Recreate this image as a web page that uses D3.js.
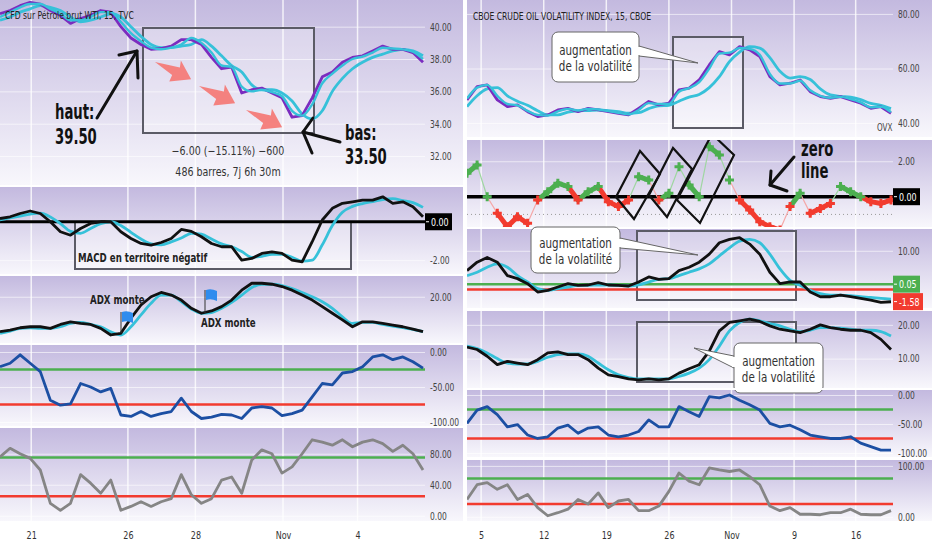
<!DOCTYPE html>
<html>
<head>
<meta charset="utf-8">
<script src="https://cdn.jsdelivr.net/npm/d3@7"></script>
<style>
  body { margin: 0; background: #fff; }
  svg { display: block; }
</style>
</head>
<body>
<div id="chart"></div>
<script>
// ---- data (one value every ~10px of bars) ----
const leftTickLabels = ['21', '26', '28', 'Nov', '4'];
const leftTickIdx = [3.1, 12.7, 19.4, 28.1, 35.5];
const rightTickLabels = ['5', '12', '19', '26', 'Nov', '9', '16'];
const rightTickIdx = [1.4, 7.6, 13.8, 20.0, 26.2, 32.4, 38.5];

const wtiPrice = [40.8, 41.0, 41.3, 41.5, 41.4, 41.0, 40.7, 40.2, 40.5, 40.7, 41.0, 40.9, 40.0, 39.3, 38.9, 38.6, 38.65, 38.8, 39.2, 39.2, 38.9, 38.1, 37.4, 37.5, 35.9, 36.1, 36.2, 35.9, 35.6, 34.4, 34.5, 35.6, 36.9, 37.2, 37.8, 38.1, 38.2, 38.5, 38.8, 38.6, 38.6, 38.4, 37.8];
const wtiFast = [40.6, 40.9, 41.2, 41.4, 41.4, 41.1, 40.8, 40.4, 40.4, 40.6, 40.9, 40.9, 40.3, 39.6, 39.1, 38.7, 38.6, 38.7, 38.9, 39.3, 39.0, 38.4, 37.6, 37.5, 36.3, 36.0, 36.1, 35.95, 35.7, 34.8, 34.5, 35.2, 36.5, 37.1, 37.6, 38.0, 38.15, 38.4, 38.7, 38.65, 38.6, 38.45, 38.0];
const wtiSlow = [40.4, 40.6, 40.9, 41.1, 41.3, 41.2, 41.0, 40.6, 40.3, 40.4, 40.6, 40.8, 40.6, 40.0, 39.4, 38.9, 38.7, 38.7, 38.8, 38.9, 39.2, 38.8, 38.2, 37.6, 37.2, 36.4, 36.1, 36.1, 35.9, 35.4, 34.6, 34.3, 34.8, 36.0, 36.8, 37.4, 37.8, 38.1, 38.3, 38.5, 38.6, 38.5, 38.2];
const wtiMacd = [0.17, 0.26, 0.43, 0.56, 0.43, 0, -0.52, -0.7, -0.35, -0.09, 0, 0, -0.52, -0.87, -1.13, -1.22, -1.08, -0.87, -0.4, -0.5, -0.78, -1.13, -1.3, -1.3, -2.0, -1.91, -1.65, -1.57, -1.65, -2.0, -2.09, -1.04, 0.09, 0.7, 0.96, 1.04, 1.13, 1.13, 1.3, 0.96, 1.04, 0.78, 0.26];
const wtiSignal = [0.1, 0.2, 0.3, 0.4, 0.45, 0.25, -0.1, -0.5, -0.6, -0.35, -0.1, 0, -0.2, -0.55, -0.9, -1.15, -1.2, -1.05, -0.85, -0.6, -0.65, -0.9, -1.15, -1.3, -1.55, -1.85, -1.8, -1.7, -1.7, -1.85, -2.05, -2.0, -1.2, -0.2, 0.5, 0.8, 0.95, 1.05, 1.15, 1.2, 1.1, 1.0, 0.75];
const wtiAdx = [9.4, 9.9, 10.6, 10.9, 10.9, 10.4, 11.6, 12.4, 11.9, 11.6, 10.4, 8.4, 8.9, 13.5, 17.5, 20.0, 21.3, 20.5, 19.0, 16.5, 15.0, 15.7, 17.0, 19.0, 22.0, 24.1, 24.1, 23.8, 23.1, 22.0, 20.5, 19.0, 17.0, 15.0, 13.0, 10.9, 12.4, 12.4, 11.9, 11.4, 10.9, 10.2, 9.4];
const wtiAdxSig = [8.9, 9.6, 10.4, 10.6, 10.4, 10.4, 10.9, 11.9, 12.2, 11.6, 10.9, 9.4, 8.4, 10.9, 14.5, 18.0, 20.5, 20.5, 18.5, 16.3, 15.0, 15.2, 16.5, 18.3, 20.5, 22.8, 23.8, 23.8, 23.4, 22.5, 21.3, 20.0, 18.5, 16.5, 13.9, 11.9, 12.2, 12.2, 11.6, 11.1, 10.6, 10.1, 9.4];
const wtiWillR = [-21, -16, -4, -16, -28, -69, -76, -74, -45, -50, -57, -52, -90, -92, -85, -92, -88, -85, -66, -85, -95, -93, -89, -90, -95, -80, -78, -80, -91, -88, -83, -64, -45, -47, -30, -28, -21, -7, -4, -11, -7, -14, -23];
const wtiStoch = [76, 87, 80, 74, 59, 16, 7, 16, 53, 42, 29, 46, 7, 12, 18, 12, 18, 22, 53, 27, 16, 22, 46, 50, 29, 72, 85, 80, 55, 63, 80, 98, 95, 91, 98, 89, 95, 98, 93, 83, 91, 80, 59];

const ovx = [48.5, 53.4, 54.0, 48.5, 46.0, 46.7, 44.2, 42.4, 43.0, 44.8, 45.4, 44.2, 45.4, 44.8, 44.2, 43.6, 43.0, 45.4, 47.9, 46.7, 47.3, 52.2, 52.8, 55.8, 61.3, 66.2, 65.0, 68.0, 66.8, 64.4, 57.0, 54.0, 54.6, 55.8, 51.5, 49.7, 49.1, 49.7, 48.5, 47.3, 45.4, 46.0, 43.6];
const ovxFast = [49, 53, 54, 50, 47, 46.5, 44.5, 43, 42.8, 44.3, 45.2, 44.6, 45.2, 45, 44.4, 43.8, 43.2, 44.8, 47.3, 47, 47, 51.5, 52.8, 55, 60, 65.5, 65.8, 67.5, 67.2, 65, 58, 54.5, 54.5, 55.5, 52, 50, 49.3, 49.6, 48.8, 47.6, 45.8, 46, 44];
const ovxSlow = [46, 50, 52.5, 53, 50, 48, 46.5, 44.5, 43, 43, 44, 44.5, 44.6, 44.8, 44.6, 44.2, 43.6, 43.8, 45.3, 46.3, 46.5, 48, 49.5, 50.5, 53, 57, 62.5, 66, 68, 67.5, 64, 59, 56.5, 57, 56, 52.5, 50.3, 49.8, 49.5, 48.6, 47.2, 46.5, 45.3];
const ovxOsc = [1.32, 1.79, 0, -0.94, -1.69, -1.13, -1.5, -0.19, 0.28, 0.76, 0.57, -0.19, 0.28, 0.57, -0.28, -0.56, -0.19, 1.13, 0.94, -0.19, 0.19, 1.69, 0.66, 0, 2.82, 2.36, 0.94, -0.19, -0.75, -1.41, -1.69, -1.88, -0.56, 0.19, -0.94, -0.66, -0.38, 0.57, 0.28, 0, -0.28, -0.38, -0.19];
const ovxMacd = [4.1, 6.6, 8.0, 6.6, 2.6, 1.7, 0.2, -2.3, -1.8, -0.8, 0.2, -0.3, -0.2, 0.5, -0.2, -0.3, -0.5, 0.7, 2.2, 1.5, 1.7, 4.1, 5.1, 6.6, 9.0, 12.4, 13.4, 13.9, 12.0, 9.0, 3.6, 0.2, 0.7, 0.7, -2.3, -3.7, -3.7, -3.2, -3.7, -4.2, -4.7, -5.4, -5.2];
const ovxSignal = [2.6, 3.6, 5.1, 6.1, 5.1, 2.6, 0.7, -1.3, -1.8, -1.3, -0.8, -0.3, -0.3, -0.2, -0.2, -0.3, -0.5, -0.2, 0.7, 1.5, 1.7, 2.6, 3.6, 4.6, 6.1, 8.5, 10.9, 12.9, 13.4, 12.4, 9.0, 4.6, 1.2, -0.3, -1.8, -2.8, -3.2, -3.2, -3.4, -3.7, -3.9, -4.2, -4.4];
const ovxAdx = [13.4, 12.7, 10.7, 8.2, 9.2, 8.7, 8.2, 9.7, 11.7, 12.0, 11.2, 11.2, 9.7, 7.2, 5.2, 4.7, 4.0, 3.7, 4.0, 3.7, 4.0, 5.7, 7.0, 8.2, 12.2, 18.2, 20.7, 21.2, 21.7, 21.0, 19.7, 18.7, 18.2, 17.7, 18.7, 20.0, 19.2, 18.7, 18.4, 18.4, 17.7, 15.7, 12.7];
const ovxAdxSig = [13.7, 13.0, 11.7, 10.0, 8.7, 8.4, 8.4, 9.2, 10.4, 11.2, 11.4, 11.4, 10.7, 8.7, 6.7, 5.2, 4.4, 4.0, 4.0, 4.0, 4.0, 4.7, 5.7, 7.2, 9.7, 13.7, 18.2, 20.7, 21.7, 21.2, 20.4, 19.7, 18.7, 18.0, 18.4, 19.2, 19.2, 19.0, 18.7, 18.4, 18.4, 18.0, 16.7];
const ovxWillR = [-49, -26, -20, -34, -55, -51, -69, -75, -72, -57, -52, -66, -57, -55, -69, -72, -69, -63, -43, -55, -55, -20, -29, -37, -3, -5, 0, -9, -17, -26, -49, -55, -52, -60, -69, -72, -75, -75, -72, -83, -89, -95, -95];
const ovxStoch = [34, 63, 67, 54, 63, 34, 44, 18, 2, 8, 15, 34, 25, 47, 18, 31, 34, 12, 12, 21, 50, 86, 70, 63, 96, 92, 89, 92, 79, 63, 21, 12, 18, 5, 5, 4, 8, 8, 15, 5, 4, 4, 12];

// levels
const willRLevels = [-25, -75];
const stochLevels = [75, 25];
const ovxMacdLevels = [0.05, -1.58];

// ---- setup ----
const W = 932, H = 550;
const FONT = '"DejaVu Sans Condensed", "Liberation Sans Narrow", sans-serif';
const PURPLE = '#7b2cbf', CYAN = '#36c1d9', GREEN = '#4caf50', RED = '#f23b2f', BLUE = '#1c4fa3', GRAY = '#858585';
const LW = 2.8;
const fmt = d => d3.format('.2f')(d).replace('\u2212', '-');

const svg = d3.select('#chart').append('svg')
    .attr('width', W)
    .attr('height', H)
    .style('font-family', FONT);
const defs = svg.append('defs');
const grad = defs.append('linearGradient').attr('id', 'bg')
    .attr('x1', 0).attr('y1', 0).attr('x2', 0).attr('y2', 1);
grad.append('stop').attr('offset', '0%').attr('stop-color', '#c3b9df');
grad.append('stop').attr('offset', '100%').attr('stop-color', '#f8f7fc');

svg.append('rect').attr('width', W).attr('height', H).attr('fill', '#fff');

// the source font is much narrower than anything installed: squeeze texts horizontally
function narrow(sel, s) {
    sel.each(function () {
        const t = d3.select(this);
        const x = +t.attr('x') || 0, y = +t.attr('y') || 0;
        t.attr('x', 0).attr('y', 0).attr('transform', `translate(${x},${y}) scale(${s},1)`);
    });
}

const leftHalf = { x0: 0, x1: 463, plotRight: 425, ticks: leftTickIdx,
    x: d3.scaleLinear().domain([0, 42]).range([0, 423]) };
const rightHalf = { x0: 467, x1: 932, plotRight: 893, ticks: rightTickIdx,
    x: d3.scaleLinear().domain([0, 42]).range([467, 891]) };

let clipN = 0;
function pane(half, top, bottom, domain, ticks) {
    const y = d3.scaleLinear().domain(domain).range([bottom, top]);
    const g = svg.append('g');
    g.append('rect')
        .attr('x', half.x0).attr('y', top)
        .attr('width', half.x1 - half.x0).attr('height', bottom - top)
        .attr('fill', 'url(#bg)');
    g.append('g').selectAll('line')
        .data(half.ticks)
        .join('line')
        .attr('x1', d => half.x(d)).attr('x2', d => half.x(d))
        .attr('y1', top).attr('y2', bottom)
        .attr('stroke', '#fff').attr('stroke-width', 1.5).attr('opacity', 0.8);
    const ax = g.append('g')
        .attr('transform', `translate(${half.plotRight},0)`)
        .call(d3.axisRight(y).tickValues(ticks).tickSize(-(half.plotRight - half.x0)).tickPadding(5).tickFormat(fmt));
    ax.attr('font-family', FONT);
    ax.select('.domain').remove();
    ax.selectAll('line').attr('stroke', '#fff').attr('opacity', 0.6);
    ax.selectAll('text').attr('fill', '#444').attr('font-size', 10.5).call(narrow, 0.8);
    const id = 'clip' + (clipN++);
    defs.append('clipPath').attr('id', id).append('rect')
        .attr('x', half.x0).attr('y', top)
        .attr('width', half.plotRight - half.x0).attr('height', bottom - top);
    const plot = g.append('g').attr('clip-path', `url(#${id})`);
    return { half, y, g, plot, top, bottom };
}

function line(p, data, color, width, curve) {
    p.plot.append('path')
        .datum(data)
        .attr('d', d3.line()
            .x((d, i) => p.half.x(i))
            .y(d => p.y(d))
            .curve(curve || d3.curveMonotoneX))
        .attr('fill', 'none')
        .attr('stroke', color)
        .attr('stroke-width', width)
        .attr('stroke-linejoin', 'round');
}

function level(p, v, color, width) {
    p.plot.append('line')
        .attr('x1', p.half.x0).attr('x2', p.half.plotRight)
        .attr('y1', p.y(v)).attr('y2', p.y(v))
        .attr('stroke', color).attr('stroke-width', width);
}

function valueBox(p, v, bg, shift) {
    const cy = p.y(v) + (shift || 0);
    const bx = p.half.plotRight;
    p.g.append('rect')
        .attr('x', bx).attr('y', cy - 8.5)
        .attr('width', fmt(v).length > 4 ? 30 : 27).attr('height', 17)
        .attr('fill', bg);
    p.g.append('line')
        .attr('x1', bx + 1).attr('x2', bx + 4).attr('y1', cy).attr('y2', cy)
        .attr('stroke', '#fff').attr('stroke-width', 1);
    p.g.append('text')
        .attr('x', bx + 6).attr('y', cy + 4)
        .attr('fill', '#fff').attr('font-size', 11)
        .text(fmt(v))
        .call(narrow, 0.8);
}

// ---- left column: WTI ----
const L1 = pane(leftHalf, 0, 185, [30.21, 41.65], [32, 34, 36, 38, 40]);
const L2 = pane(leftHalf, 187, 274, [-2.72, 1.81], [-2]);
const L3 = pane(leftHalf, 276, 343, [5.97, 26.3], [20]);
const L4 = pane(leftHalf, 345, 426, [-105.7, 10], [0, -50, -100]);
const L5 = pane(leftHalf, 428, 521, [-6.8, 113.2], [0, 40, 80]);

// box drawn under the lines
L1.plot.append('rect').attr('x', 143).attr('y', 28).attr('width', 171).attr('height', 105)
    .attr('fill', '#fff').attr('fill-opacity', 0.3).attr('stroke', '#5b5b66').attr('stroke-width', 2);
line(L1, wtiSlow, CYAN, LW);
line(L1, wtiPrice, PURPLE, LW, d3.curveLinear);
line(L1, wtiFast, CYAN, 2.4);

L2.plot.append('rect').attr('x', 75).attr('y', 222).attr('width', 276).attr('height', 47)
    .attr('fill', '#fff').attr('fill-opacity', 0.3).attr('stroke', '#5b5b66').attr('stroke-width', 2);
level(L2, 0, '#000', 3);
line(L2, wtiSignal, CYAN, LW);
line(L2, wtiMacd, '#111', LW, d3.curveLinear);
valueBox(L2, 0, '#000');

line(L3, wtiAdxSig, CYAN, LW);
line(L3, wtiAdx, '#111', LW, d3.curveLinear);

willRLevels.forEach((v, i) => level(L4, v, i ? RED : GREEN, 2.5));
line(L4, wtiWillR, BLUE, LW, d3.curveLinear);

stochLevels.forEach((v, i) => level(L5, v, i ? RED : GREEN, 2.5));
line(L5, wtiStoch, GRAY, LW, d3.curveLinear);

// ---- right column: OVX ----
const R1 = pane(rightHalf, 0, 137, [34.9, 85.1], [40, 60, 80]);
const R2 = pane(rightHalf, 140, 227, [-1.71, 3.2], [2]);
const R3 = pane(rightHalf, 229, 308, [-7.06, 16.5], [10]);
const R4 = pane(rightHalf, 311, 388, [1.3, 24.1], [10, 20]);
const R5 = pane(rightHalf, 390, 457, [-106.9, 8.6], [0, -50, -100]);
const R6 = pane(rightHalf, 460, 521, [-8.3, 111.6], [0, 100]);

R1.plot.append('rect').attr('x', 673).attr('y', 37).attr('width', 70).attr('height', 91)
    .attr('fill', '#fff').attr('fill-opacity', 0.3).attr('stroke', '#5b5b66').attr('stroke-width', 2);
line(R1, ovxSlow, CYAN, LW);
line(R1, ovx, PURPLE, LW, d3.curveLinear);
line(R1, ovxFast, CYAN, 2.4);
R1.g.append('text').attr('x', 877).attr('y', 131).attr('font-size', 10).attr('fill', '#444').text('OVX')
    .call(narrow, 0.8);

// zero-line oscillator: thick where it trends, thin where it jumps
R2.plot.append('line').attr('x1', 467).attr('x2', 893).attr('y1', R2.y(-1)).attr('y2', R2.y(-1))
    .attr('stroke', '#999').attr('stroke-dasharray', '1,3');
level(R2, 0, '#000', 3.5);
const oscPts = ovxOsc.map((v, i) => ({ x: rightHalf.x(i), y: R2.y(v), v }));
const jump = d => Math.abs(d[1].v - d[0].v) > 0.9;
R2.plot.selectAll('line.seg')
    .data(d3.pairs(oscPts))
    .join('line')
    .attr('class', 'seg')
    .attr('x1', d => d[0].x).attr('y1', d => d[0].y)
    .attr('x2', d => d[1].x).attr('y2', d => d[1].y)
    .attr('stroke', d => d[1].v >= 0 ? (jump(d) ? '#9fd6a1' : GREEN) : (jump(d) ? '#f5a8a8' : RED))
    .attr('stroke-width', d => jump(d) ? 1.2 : 5)
    .attr('stroke-linecap', 'round');
R2.plot.selectAll('path.mk')
    .data(oscPts)
    .join('path')
    .attr('class', 'mk')
    .attr('transform', d => `translate(${d.x},${d.y})`)
    .attr('d', d3.symbol(d3.symbolCross, 45))
    .attr('fill', d => d.v >= 0 ? GREEN : RED);
valueBox(R2, 0, '#000');

R3.plot.append('rect').attr('x', 637).attr('y', 231).attr('width', 159).attr('height', 69)
    .attr('fill', '#fff').attr('fill-opacity', 0.3).attr('stroke', '#5b5b66').attr('stroke-width', 2);
level(R3, ovxMacdLevels[0], GREEN, 2.5);
level(R3, ovxMacdLevels[1], RED, 2.5);
line(R3, ovxSignal, CYAN, LW);
line(R3, ovxMacd, '#111', LW, d3.curveLinear);
valueBox(R3, ovxMacdLevels[0], GREEN);
valueBox(R3, ovxMacdLevels[1], RED, 12);

R4.plot.append('rect').attr('x', 637).attr('y', 322).attr('width', 159).attr('height', 60)
    .attr('fill', '#fff').attr('fill-opacity', 0.3).attr('stroke', '#5b5b66').attr('stroke-width', 2);
line(R4, ovxAdxSig, CYAN, LW);
line(R4, ovxAdx, '#111', LW, d3.curveLinear);

willRLevels.forEach((v, i) => level(R5, v, i ? RED : GREEN, 2.5));
line(R5, ovxWillR, BLUE, LW, d3.curveLinear);

stochLevels.forEach((v, i) => level(R6, v, i ? RED : GREEN, 2.5));
line(R6, ovxStoch, GRAY, LW, d3.curveLinear);

// ---- time axes ----
[[leftHalf, leftTickLabels], [rightHalf, rightTickLabels]].forEach(([half, labels]) => {
    const ax = svg.append('g')
        .attr('transform', 'translate(0,522)')
        .call(d3.axisBottom(half.x).tickValues(half.ticks).tickSize(0).tickPadding(10)
            .tickFormat((d, i) => labels[i]));
    ax.attr('font-family', FONT);
    ax.select('.domain').remove();
    ax.selectAll('text').attr('fill', '#333').attr('font-size', 10.5).attr('text-anchor', null)
        .call(narrow, 0.85).attr('text-anchor', 'middle');
});

// ---- annotations ----
const ann = svg.append('g');
ann.append('text').attr('x', 5).attr('y', 19).attr('font-size', 10.5).attr('fill', '#222')
    .text('CFD sur Pétrole brut WTI, 15, TVC').call(narrow, 0.81);
ann.append('text').attr('x', 473).attr('y', 20).attr('font-size', 10.5).attr('fill', '#222')
    .text('CBOE CRUDE OIL VOLATILITY INDEX, 15, CBOE').call(narrow, 0.81);

// red arrows inside the price box
const arrowShape = [[0, 0], [25, -5], [23, -12], [40, 1], [21, 12], [21, 5]];
[[155, 62], [199, 86], [246, 110]].forEach(([x, y]) => {
    ann.append('polygon')
        .attr('points', arrowShape.map(p => p.join(',')).join(' '))
        .attr('transform', `translate(${x},${y}) rotate(24)`)
        .attr('fill', '#f47b78').attr('opacity', 0.95);
});

ann.append('text').attr('x', 228).attr('y', 155).attr('text-anchor', 'middle')
    .attr('font-size', 12).attr('fill', '#333').text('\u22126.00 (\u221215.11%) \u2212600').call(narrow, 0.88);
ann.append('text').attr('x', 228).attr('y', 176).attr('text-anchor', 'middle')
    .attr('font-size', 12).attr('fill', '#333').text('486 barres, 7j 6h 30m').call(narrow, 0.88);

// black hand-drawn arrows
function stroke(pts) {
    ann.append('polyline')
        .attr('points', pts.map(d => d.join(',')).join(' '))
        .attr('stroke', '#111').attr('stroke-width', 3)
        .attr('stroke-linecap', 'round').attr('stroke-linejoin', 'round')
        .attr('fill', 'none');
}
stroke([[97, 118], [137, 51]]);
stroke([[119, 55], [137, 51], [138, 78]]);
stroke([[340, 142], [303, 132]]);
stroke([[313, 118], [303, 132], [312, 153]]);
stroke([[794, 157], [770, 185]]);
stroke([[771, 171], [770, 185], [787, 191]]);

function bigText(x, y, t) {
    ann.append('text').attr('x', x).attr('y', y).attr('font-size', 21).attr('font-weight', 'bold')
        .attr('fill', '#111').text(t).call(narrow, 0.7);
}
bigText(55, 119, 'haut:');
bigText(55, 144, '39.50');
bigText(345, 140, 'bas:');
bigText(345, 164, '33.50');
bigText(801, 156, 'zero');
bigText(801, 178, 'line');

ann.append('text').attr('x', 78).attr('y', 262).attr('font-size', 12).attr('font-weight', 'bold')
    .attr('fill', '#222').text('MACD en territoire négatif').call(narrow, 0.8);

// ADX flags
[[121, 312, 333], [205, 290, 313]].forEach(([x, y0, y1]) => {
    ann.append('line').attr('x1', x).attr('x2', x).attr('y1', y0).attr('y2', y1)
        .attr('stroke', '#333').attr('stroke-width', 1);
    ann.append('path')
        .attr('d', `M${x + 1},${y0} q5,-2 11,1 l0,10 q-6,-3 -11,-1 z`)
        .attr('fill', '#2f8cee');
});
ann.append('text').attr('x', 90).attr('y', 304).attr('font-size', 13).attr('font-weight', 'bold')
    .attr('fill', '#222').text('ADX monte').call(narrow, 0.74);
ann.append('text').attr('x', 201).attr('y', 327).attr('font-size', 13).attr('font-weight', 'bold')
    .attr('fill', '#222').text('ADX monte').call(narrow, 0.74);

// rotated boxes on the zero-line oscillator
const boxClip = defs.append('clipPath').attr('id', 'oscbox');
boxClip.append('rect').attr('x', 467).attr('y', 140).attr('width', 426).attr('height', 87);
const boxes = ann.append('g').attr('clip-path', 'url(#oscbox)');
[
    [[616, 197], [640, 151], [660, 174], [634, 219]],
    [[649, 195], [673, 148], [692, 169], [667, 217]],
    [[677, 200], [712, 134], [734, 155], [700, 223]]
].forEach(pts => {
    boxes.append('polygon').attr('points', pts.map(d => d.join(',')).join(' '))
        .attr('fill', 'none').attr('stroke', '#111').attr('stroke-width', 2.2);
});

// callouts
function callout(x, y, w, h, tip, base) {
    ann.append('path')
        .attr('d', `M${base[0][0]},${base[0][1]} L${tip[0]},${tip[1]} L${base[1][0]},${base[1][1]}`)
        .attr('fill', '#fff').attr('stroke', '#666').attr('stroke-width', 1);
    ann.append('rect').attr('x', x).attr('y', y).attr('width', w).attr('height', h).attr('rx', 6)
        .attr('fill', '#fff').attr('stroke', '#666').attr('stroke-width', 1);
    ann.append('rect').attr('x', base[0][0] - 2).attr('y', Math.min(base[0][1], base[1][1]) + 1)
        .attr('width', 4).attr('height', Math.abs(base[1][1] - base[0][1]) - 2).attr('fill', '#fff');
    ['augmentation', 'de la volatilité'].forEach((t, i) => {
        ann.append('text').attr('text-anchor', 'middle').attr('font-size', 14).attr('fill', '#333')
            .attr('x', x + w / 2).attr('y', y + h / 2 - 2 + i * 16).text(t)
            .call(narrow, 0.82);
    });
}
callout(552, 32, 87, 50, [698, 63], [[639, 46], [639, 56]]);
callout(531, 227, 89, 46, [698, 255], [[620, 238], [620, 248]]);
callout(734, 343, 89, 50, [694, 348], [[734, 356], [734, 368]]);
// keep the last callout inside its pane
ann.append('rect').attr('x', 730).attr('y', 388).attr('width', 100).attr('height', 2).attr('fill', '#fff');
</script>
</body>
</html>
